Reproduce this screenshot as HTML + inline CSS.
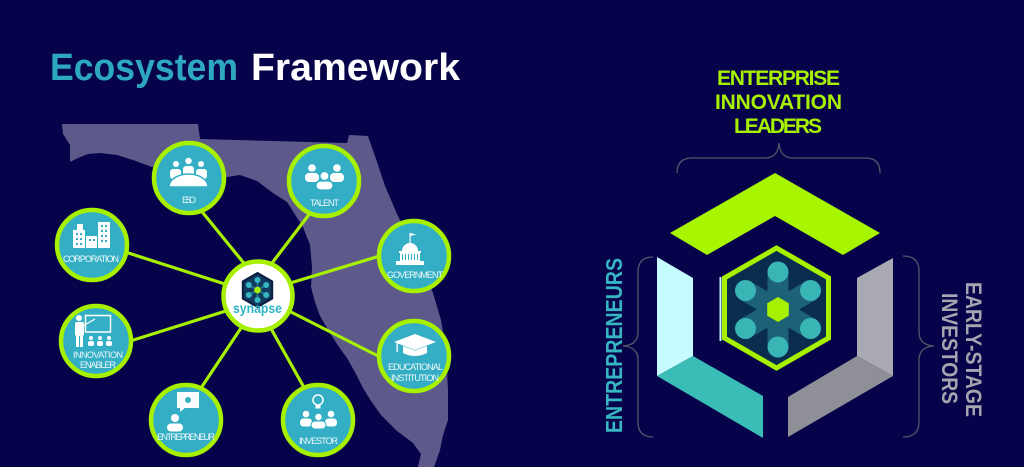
<!DOCTYPE html>
<html><head><meta charset="utf-8"><style>
html,body{margin:0;padding:0;background:#07034a;}
svg{display:block;}
text{font-family:"Liberation Sans",sans-serif;}
</style></head><body>
<svg width="1024" height="467" viewBox="0 0 1024 467" xmlns="http://www.w3.org/2000/svg">
<rect width="1024" height="467" fill="#07034a"/>

<!-- Title -->
<text x="50" y="80" font-size="38" font-weight="bold" fill="#2ea8bf" textLength="188" lengthAdjust="spacingAndGlyphs">Ecosystem</text>
<text x="251" y="80" font-size="38" font-weight="bold" fill="#ffffff" textLength="209" lengthAdjust="spacingAndGlyphs">Framework</text>

<!-- Florida map -->
<path fill="#5d5a8b" d="M62,124 L198,124 L200,139 L347,143 L349,135 L368,136 L377,162 L385,186 L397,214 L410,240 L422,266 L433,293 L441,320 L446,350 L448,390 L448,420 L443,435 L440,450 L434,467 L418,467 L421,454 L413,443 L397,431 L381,415 L371,401 L363,388 L356,374 L347,358 L339,347 L330,333 L320,316 L315,302 L311,287 L312,267 L310,245 L303,227 L287,202 L273,193 L257,181 L240,175 L227,177 L210,171 L190,167 L170,164 L152,167 L133,160 L117,155 L100,153 L88,154 L78,158 L70,162 L70,145 L63,134 Z"/>

<!-- connector lines -->
<g stroke="#a6f000" stroke-width="3.2" stroke-linecap="round">
<line x1="199" y1="208" x2="247" y2="267"/>
<line x1="311" y1="212" x2="269" y2="267"/>
<line x1="122" y1="251" x2="228" y2="285"/>
<line x1="383" y1="255" x2="287" y2="284"/>
<line x1="127" y1="342" x2="229" y2="310"/>
<line x1="382" y1="358" x2="287" y2="310"/>
<line x1="199" y1="391" x2="243" y2="325"/>
<line x1="306" y1="391" x2="269" y2="325"/>
</g>

<!-- circles -->
<g fill="#34aec4" stroke="#a6f000" stroke-width="4.5">
<circle cx="189" cy="178" r="35"/>
<circle cx="324" cy="181" r="35"/>
<circle cx="92" cy="245" r="35"/>
<circle cx="414" cy="256" r="35"/>
<circle cx="96" cy="341" r="35"/>
<circle cx="414" cy="356" r="35"/>
<circle cx="186" cy="420" r="35"/>
<circle cx="318" cy="420" r="35"/>
</g>
<circle cx="258" cy="296" r="34.5" fill="#ffffff" stroke="#a6f000" stroke-width="4.5"/>

<!-- synapse logo -->
<polygon points="257.5,273 272.2,281.5 272.2,298.5 257.5,307 242.8,298.5 242.8,281.5" fill="#123a5c" stroke="#0b1c40" stroke-width="2"/>
<g stroke="#2a8aa0" stroke-width="2" opacity="0.7">
<line x1="257.5" y1="280" x2="257.5" y2="300"/>
<line x1="248.8" y1="285" x2="266.2" y2="295"/>
<line x1="248.8" y1="295" x2="266.2" y2="285"/>
</g>
<g fill="#36b5c2">
<circle cx="257.5" cy="280" r="3"/><circle cx="257.5" cy="300" r="3"/>
<circle cx="248.8" cy="285" r="3"/><circle cx="266.2" cy="285" r="3"/>
<circle cx="248.8" cy="295" r="3"/><circle cx="266.2" cy="295" r="3"/>
</g>
<circle cx="257.5" cy="290" r="3.3" fill="#a6f000"/>
<text x="257.5" y="313" font-size="14" font-weight="bold" fill="#2eb4c4" text-anchor="middle" textLength="49" lengthAdjust="spacingAndGlyphs">synapse</text>

<!-- icons -->
<g fill="#ffffff">
<!-- ESO -->
<circle cx="176" cy="164" r="3"/><circle cx="188.5" cy="161" r="3.2"/><circle cx="201" cy="164" r="3"/>
<rect x="170" y="169" width="11" height="10" rx="3"/><rect x="183" y="166" width="11" height="10" rx="3"/><rect x="196" y="169" width="11" height="10" rx="3"/>
<path d="M169,187 A19.5,13 0 0 1 208,187 Z" stroke="#34aec4" stroke-width="1.5"/>
<!-- TALENT -->
<circle cx="312" cy="168" r="3.8"/><circle cx="337" cy="168" r="3.8"/>
<rect x="305" y="173" width="14" height="9" rx="4"/><rect x="330" y="173" width="14" height="9" rx="4"/>
<circle cx="324.5" cy="176" r="4.5" stroke="#34aec4" stroke-width="1.2"/>
<rect x="316" y="181" width="17" height="9" rx="4.5" stroke="#34aec4" stroke-width="1.2"/>
<!-- CORPORATION -->
<rect x="73" y="230" width="12" height="18"/>
<rect x="86" y="236" width="11" height="12"/>
<rect x="98" y="222" width="12" height="26"/>
<rect x="77" y="224" width="6" height="7"/>
<!-- GOVERNMENT -->
<rect x="409.5" y="233" width="1.2" height="10"/>
<path d="M410.7,233 L416,234.5 L410.7,236 Z"/>
<path d="M402,251 A8,8 0 0 1 418,251 Z"/>
<rect x="399" y="251" width="22" height="2"/>
<rect x="400" y="253" width="20" height="8"/>
<rect x="396" y="261" width="28" height="4"/>
<!-- EDUCATIONAL -->
<polygon points="394,342 415,334 436,342 415,350"/>
<path d="M403,346 L415,350.5 L427,346 L427,353 Q415,359 403,353 Z"/>
<rect x="396.5" y="342" width="1.3" height="10"/>
<!-- INVESTOR -->
<circle cx="318" cy="400" r="5" fill="none" stroke="#ffffff" stroke-width="1.5"/>
<rect x="315.5" y="405.5" width="5" height="3"/>
<circle cx="306" cy="414" r="3.3"/><circle cx="331" cy="414" r="3.3"/>
<rect x="300" y="418.5" width="12" height="8" rx="3.5"/><rect x="325" y="418.5" width="12" height="8" rx="3.5"/>
<circle cx="318.5" cy="417" r="3.8" stroke="#34aec4" stroke-width="1.1"/>
<rect x="311" y="421" width="15" height="8" rx="4" stroke="#34aec4" stroke-width="1.1"/>
<!-- ENTREPRENEUR -->
<rect x="177" y="392" width="22" height="16"/>
<polygon points="180,407 186,407 180,412"/>
<circle cx="175" cy="418" r="4"/>
<rect x="167" y="423.5" width="16" height="8" rx="4"/>
<!-- ENABLER -->
<rect x="85.5" y="315.5" width="25" height="16.5" fill="none" stroke="#ffffff" stroke-width="1.5"/>
<circle cx="79" cy="318" r="3"/>
<rect x="75" y="322" width="9" height="14" rx="2"/>
<rect x="76" y="335" width="3" height="12"/><rect x="80" y="335" width="3" height="12"/>
<line x1="83" y1="326" x2="95" y2="319" stroke="#ffffff" stroke-width="1.3"/>
<circle cx="91" cy="338" r="2"/><circle cx="100" cy="338" r="2"/><circle cx="109" cy="338" r="2"/>
<rect x="88" y="341" width="6" height="5" rx="2"/><rect x="97" y="341" width="6" height="5" rx="2"/><rect x="106" y="341" width="6" height="5" rx="2"/>
</g>
<!-- small icon details -->
<g fill="#34aec4">
<rect x="76" y="233" width="2" height="2"/><rect x="80" y="233" width="2" height="2"/>
<rect x="76" y="238" width="2" height="2"/><rect x="80" y="238" width="2" height="2"/>
<rect x="76" y="243" width="2" height="2"/><rect x="80" y="243" width="2" height="2"/>
<rect x="89" y="239" width="2" height="2"/><rect x="93" y="239" width="2" height="2"/>
<rect x="101" y="225" width="2" height="2"/><rect x="105" y="225" width="2" height="2"/>
<rect x="101" y="230" width="2" height="2"/><rect x="105" y="230" width="2" height="2"/>
<rect x="101" y="235" width="2" height="2"/><rect x="105" y="235" width="2" height="2"/>
<rect x="101" y="240" width="2" height="2"/><rect x="105" y="240" width="2" height="2"/>
<rect x="402" y="254" width="1" height="6"/><rect x="405" y="254" width="1" height="6"/><rect x="408" y="254" width="1" height="6"/>
<rect x="411" y="254" width="1" height="6"/><rect x="414" y="254" width="1" height="6"/><rect x="417" y="254" width="1" height="6"/>
<circle cx="188" cy="400" r="3"/>
</g>

<!-- labels -->
<g font-size="9" fill="#eef7fa" text-anchor="middle" lengthAdjust="spacingAndGlyphs">
<text x="189" y="203" textLength="14">ESO</text>
<text x="324.5" y="206" textLength="29">TALENT</text>
<text x="91" y="262" textLength="56">CORPORATION</text>
<text x="415" y="278" textLength="56">GOVERNMENT</text>
<text x="98" y="358" textLength="50">INNOVATION</text>
<text x="98" y="368" textLength="36">ENABLER</text>
<text x="415.5" y="370" textLength="55">EDUCATIONAL</text>
<text x="415" y="381" textLength="48">INSTITUTION</text>
<text x="186" y="440" textLength="58">ENTREPRENEUR</text>
<text x="318.5" y="444" textLength="39">INVESTOR</text>
</g>

<!-- Right diagram -->
<g font-weight="bold" text-anchor="middle" fill="#a6f000" font-size="21" lengthAdjust="spacingAndGlyphs">
<text x="778.5" y="85" textLength="123">ENTERPRISE</text>
<text x="778.5" y="109" textLength="127">INNOVATION</text>
<text x="778" y="133" textLength="88">LEADERS</text>
</g>

<!-- brackets -->
<g fill="none" stroke="#4d5a6a" stroke-width="1.3">
<path d="M677,173 Q677,158 692,158 L765,158 Q778,158 779,143 Q780,158 793,158 L866,158 Q880,158 880,173"/>
<path d="M653,257 Q638,257 638,272 L638,332 Q638,345 623,346 Q638,347 638,360 L638,422 Q638,437 653,437"/>
<path d="M903,256 Q919,256 919,271 L919,332 Q919,345 934,346 Q919,347 919,360 L919,422 Q919,437 903,437"/>
</g>

<!-- hex panels -->
<polygon points="775,173 880,233 843,255 775,216 707,255 670,233" fill="#a8f500"/>
<polygon points="657,257 693,278 693,356 657,376" fill="#c6fbff"/>
<polygon points="657,376 693,356 763,396 763,438" fill="#3abdb7"/>
<polygon points="893,258 857,278 857,356 893,376" fill="#a9a9b1"/>
<polygon points="893,376 857,356 788,397 788,437" fill="#8f8f97"/>

<!-- central hex -->
<line x1="720.5" y1="277" x2="720.5" y2="341" stroke="#c6fbff" stroke-width="2"/>
<polygon points="776.5,248 828.5,278 828.5,338 776.5,368 724.5,338 724.5,278" fill="#0a2d4f" stroke="#a6f000" stroke-width="5"/>
<g fill="#3ab5b5" opacity="0.38">
<rect x="767.5" y="262" width="21" height="95" rx="10.5"/>
<rect x="767.5" y="262" width="21" height="95" rx="10.5" transform="rotate(60 778 309.5)"/>
<rect x="767.5" y="262" width="21" height="95" rx="10.5" transform="rotate(-60 778 309.5)"/>
</g>
<g fill="#3ab5b5">
<circle cx="778" cy="272" r="10.5"/>
<circle cx="778" cy="347" r="10.5"/>
<circle cx="745.5" cy="290.5" r="10.5"/>
<circle cx="810.5" cy="290.5" r="10.5"/>
<circle cx="745.5" cy="328.5" r="10.5"/>
<circle cx="810.5" cy="328.5" r="10.5"/>
</g>
<polygon points="778,297 788.8,303.2 788.8,315.8 778,322 767.2,315.8 767.2,303.2" fill="#a6f000"/>

<!-- vertical labels -->
<text transform="translate(622,345.5) rotate(-90)" x="0" y="0" text-anchor="middle" font-size="23" font-weight="bold" fill="#36b5c2" textLength="175" lengthAdjust="spacingAndGlyphs">ENTREPRENEURS</text>
<text transform="translate(966,349.5) rotate(90)" x="0" y="0" text-anchor="middle" font-size="22" font-weight="bold" fill="#a5a5b0" textLength="135" lengthAdjust="spacingAndGlyphs">EARLY-STAGE</text>
<text transform="translate(942,348.5) rotate(90)" x="0" y="0" text-anchor="middle" font-size="22" font-weight="bold" fill="#a5a5b0" textLength="111" lengthAdjust="spacingAndGlyphs">INVESTORS</text>
</svg>
</body></html>
